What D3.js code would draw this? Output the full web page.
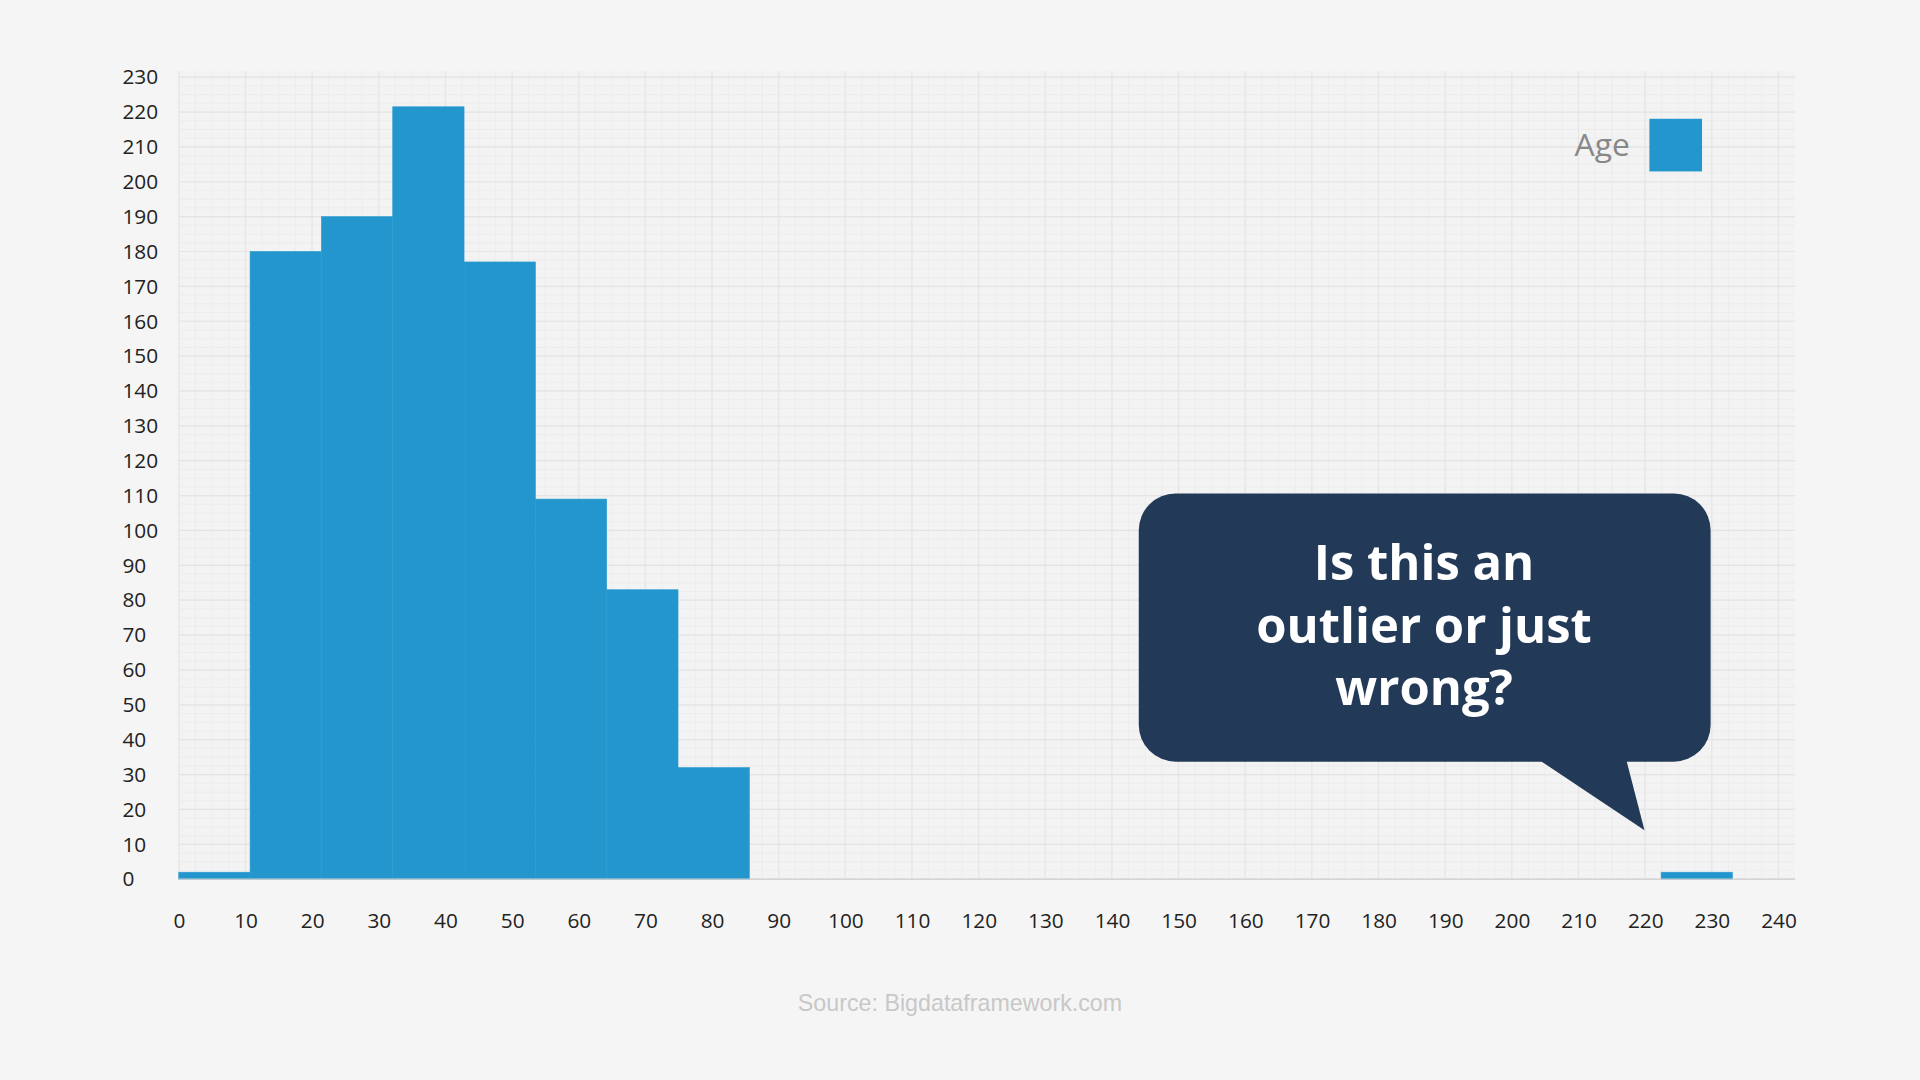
<!DOCTYPE html>
<html><head><meta charset="utf-8">
<script src="https://cdn.jsdelivr.net/npm/d3@7"></script>
<style>body{margin:0;background:#f5f5f5;overflow:hidden}</style>
</head><body>
<svg id="c" width="1920" height="1080" viewBox="0 0 1568 882"></svg>
<script>
const binStart = [0, 10.7, 21.4, 32.1, 42.8, 53.5, 64.2, 74.9, 222.4];
const binEnd   = [10.7, 21.4, 32.1, 42.8, 53.5, 64.2, 74.9, 85.6, 233.1];
const counts   = [2, 180, 190, 221.5, 177, 109, 83, 32, 2];
const xTicks = d3.range(0, 241, 10);
const yTicks = d3.range(0, 231, 10);
const seriesName = "Age";
const calloutLines = ["Is this an", "outlier or just", "wrong?"];
const sourceText = "Source: Bigdataframework.com";

const svg = d3.select("#c");
const L = 146, R = 1466, T = 63, B = 718;
const x = d3.scaleLinear().domain([0, 242.5]).range([L, R]);
const y = d3.scaleLinear().domain([0, 230]).range([B, T]);
const font = "'Open Sans', 'Noto Sans', sans-serif";

svg.append("rect").attr("width",1568).attr("height",882).attr("fill","#f5f5f5");
svg.append("rect").attr("x",L).attr("y",T-5).attr("width",R-L).attr("height",B-T+5).attr("fill","#f3f3f3");
// minor grid
const g = svg.append("g");
d3.range(0, 242.5, 2.5).forEach(v => g.append("line").attr("x1",x(v)).attr("x2",x(v)).attr("y1",T-5).attr("y2",B).attr("stroke","#ebebeb").attr("stroke-width",0.6));
d3.range(0, 231, 2.5).forEach(v => g.append("line").attr("x1",L).attr("x2",R).attr("y1",y(v)).attr("y2",y(v)).attr("stroke","#ebebeb").attr("stroke-width",0.6));
yTicks.forEach(v => g.append("line").attr("x1",L).attr("x2",R).attr("y1",y(v)).attr("y2",y(v)).attr("stroke","#e4e4e4").attr("stroke-width",1));
d3.range(0, 242.5, 10).forEach(v => g.append("line").attr("x1",x(v)).attr("x2",x(v)).attr("y1",T-5).attr("y2",B).attr("stroke","#e6e6e6").attr("stroke-width",1));

// bars
svg.append("g").selectAll("rect").data(counts).join("rect")
  .attr("x",(d,i)=>x(binStart[i])).attr("width",(d,i)=>x(binEnd[i])-x(binStart[i]))
  .attr("y",d=>y(d)).attr("height",d=>B-y(d))
  .attr("fill","#2396cd").attr("stroke","#2a9bd0").attr("stroke-width",0.5);

svg.append("line").attr("x1",L).attr("x2",R).attr("y1",B).attr("y2",B).attr("stroke","#cfcfcf");

// axes
const xa = svg.append("g").attr("transform",`translate(0,${B})`).call(d3.axisBottom(x).tickValues(xTicks).tickSize(0).tickPadding(28));
xa.select(".domain").remove();
xa.selectAll("text").attr("font-family",font).attr("font-size",17).attr("fill","#222");
const ya = svg.append("g").attr("transform",`translate(100,0)`).call(d3.axisLeft(y).tickValues(yTicks).tickSize(0).tickPadding(0));
ya.select(".domain").remove();
ya.selectAll("text").attr("font-family",font).attr("font-size",17).attr("fill","#222").attr("text-anchor","start");

// legend
svg.append("text").attr("x",1331).attr("y",127).attr("text-anchor","end").attr("font-family",font).attr("font-size",26).attr("fill","#888").text(seriesName);
svg.append("rect").attr("x",1347).attr("y",97).attr("width",43).attr("height",43).attr("fill","#2396cd");

// callout
const c = svg.append("g");
c.append("rect").attr("x",930).attr("y",403).attr("width",467).attr("height",219).attr("rx",30).attr("fill","#223a57");
c.append("path").attr("d","M1256,620 L1343,678 L1328,620 Z").attr("fill","#223a57");
calloutLines.forEach((t,i)=>c.append("text").attr("x",1163).attr("y",474+i*51).attr("text-anchor","middle")
  .attr("font-family",font).attr("font-weight",700).attr("font-size",40).attr("fill","#fff").text(t));

svg.append("text").attr("x",784).attr("y",826).attr("text-anchor","middle").attr("font-family","'Liberation Sans', Arial, sans-serif").attr("font-size",19).attr("fill","#c8c8c8").text(sourceText);
</script>
</body></html>
